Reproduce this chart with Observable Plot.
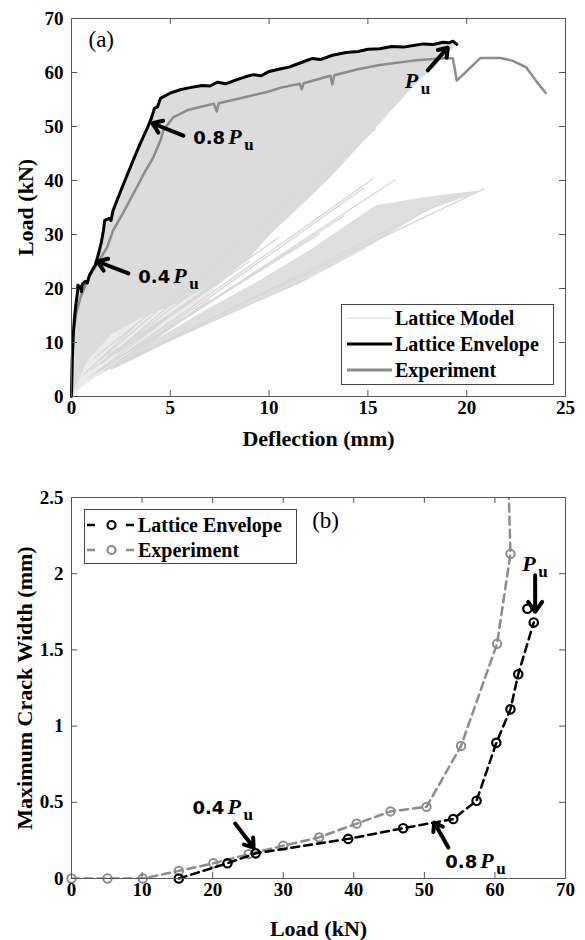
<!DOCTYPE html>
<html><head><meta charset="utf-8">
<script src="https://cdn.jsdelivr.net/npm/d3@7"></script>
<script src="https://cdn.jsdelivr.net/npm/@observablehq/plot@0.6"></script>
<style>
body{margin:0;background:#fff;}
#wrap{position:relative;width:585px;height:940px;overflow:hidden;background:#fff;}
#wrap svg{display:block;}
.legend{position:absolute;background:#fff;border:1px solid #444;box-sizing:border-box;}
</style></head><body><div id="wrap"></div>
<script>
// ---------- Panel (a): Load vs deflection ----------
const latticeEnvelope = [[0,0],[0.03,6],[0.08,11],[0.15,14.5],[0.22,17],[0.3,19.2],[0.32,20.6],[0.45,20.2],[0.5,19.4],[0.55,20.8],[0.7,21.3],[0.8,21],[0.9,22.4],[1.05,23.4],[1.2,24.3],[1.35,26.2],[1.5,28.4],[1.62,30.8],[1.68,32.6],[1.9,33],[2.0,32.6],[2.1,34.4],[2.3,36.3],[2.55,38.6],[2.85,41.3],[3.15,44],[3.45,46.6],[3.8,49.4],[4.05,51.6],[4.2,53.4],[4.35,53.6],[4.5,55.2],[5.0,56.2],[5.5,56.8],[6.0,57.2],[6.6,57.6],[7.0,57.5],[7.4,58.2],[7.8,57.9],[8.3,58.6],[8.8,59.2],[9.2,59.6],[9.6,59.4],[10.0,60.2],[10.6,60.7],[11.0,61.0],[11.6,61.8],[12.2,62.6],[12.6,62.4],[13.2,63.2],[13.9,63.7],[14.5,63.9],[15.0,64.3],[15.6,64.4],[16.2,64.8],[16.8,64.7],[17.3,65.0],[17.8,65.3],[18.3,65.2],[18.8,65.6],[19.1,65.5],[19.3,65.8],[19.5,65.2]];
const experiment = [[0,0],[0.05,6],[0.1,12],[0.25,15.5],[0.45,18.3],[0.8,21.5],[1.3,24.6],[1.8,27.6],[2.1,30.7],[2.6,33.9],[2.9,36],[3.3,38.7],[3.7,41.5],[4.14,44.3],[4.5,47.4],[4.65,49.3],[5.15,51.7],[5.85,53],[6.5,53.6],[7.2,54.2],[7.35,52.8],[7.45,54.3],[8.5,55.2],[9.9,56.4],[10.6,57.2],[11.55,57.9],[11.65,56.9],[11.75,58.0],[13.1,59.4],[13.2,57.8],[13.3,59.5],[14.5,60.6],[15.6,61.4],[17.3,62.2],[19.0,62.7],[19.3,62.6],[19.5,58.5],[20.7,62.7],[21.7,62.7],[22.3,62.2],[23.0,61],[23.5,58.5],[24.0,56.2]];
// lower edge of the dense lattice-model fan (from peak back to origin)
const latticeFanLower = [[19.4,64.8],[17.1,56.7],[15.2,49],[13.1,40.6],[11.5,35],[10.1,30.2],[9,25.7],[7.5,21.5],[5.5,17.5],[3.5,14.5],[2,11.5],[0.8,6.5],[0,0]];
// lighter, streaky part of the fan near the origin
const latticeFanStreaks = [[9,25.7],[7.5,21.5],[5.5,17.5],[3.5,14.5],[2,11.5],[0.8,6.5],[0,0],[0.4,1.5],[1.2,3.5],[2.2,5.5],[4,10],[6.5,17.5]];
// second (lower) cluster of lattice-model branches
const latticeLowerCluster = [[1.7,5],[4,10],[7,16.5],[9.5,21.5],[12,27],[15.4,35.4],[18,37],[20.9,38.3],[18,34.5],[14.9,27.5],[11.6,21],[8,15.3],[5,10.3],[2.2,5.3]];
// individual lattice-model branches [x1, y1, x2, y2]
const latticeBranches = [[1.8,5.5,15.3,40.4],[2.0,5.5,14.8,38.6],[2.4,6.5,16.4,40.2],[1.7,5,20.9,38.5],[2.0,5,19.6,37.4],[3.0,8.5,12.6,30.2],[2.6,7,13.8,33.5],[1.5,6,15.4,49.6],[1.2,6,14.6,48],[1.6,4.8,11.6,21.3],[1.0,5,7.5,21.5],[1.4,6,6,19],[1.8,7.5,9,25],[2.3,8,8.2,23],[1.3,4.5,5.5,15],[2.8,9.5,10.5,29.5],[0.9,3.5,4.5,13.5],[0.6,4,3.2,13],[1.1,7,4,15.5],[2.5,6,7,18]];
const deflTicks = [0,5,10,15,20,25];
const loadTicksA = [0,10,20,30,40,50,60,70];

// ---------- Panel (b): crack width vs load ----------
const crackEnvelope = [[15.2,0],[22.1,0.10],[26.1,0.165],[39.2,0.26],[47.0,0.33],[54.1,0.39],[57.4,0.51],[60.2,0.89],[62.2,1.11],[63.3,1.34],[65.5,1.68]];
const crackEnvelopePeak = [[64.6,1.77]];
const crackExperiment = [[0,0],[5.1,0],[10.1,0],[15.2,0.05],[20.1,0.10],[25.1,0.16],[30,0.215],[35.1,0.27],[40.4,0.36],[45.2,0.44],[50.3,0.47],[55.2,0.87],[60.3,1.54],[62.2,2.13]];
const crackExperimentTail = [[61.8,2.8]];
const loadTicksB = [0,10,20,30,40,50,60,70];
const widthTicks = [0,0.5,1,1.5,2,2.5];

// ---------- annotations ----------
const arrowsA = [{x1:5.66,y1:48.3,x2:4.09,y2:50.6},{x1:2.88,y1:22.8,x2:1.31,y2:25.0},{x1:18.03,y1:60.4,x2:19.04,y2:64.6}];
const ratioLabelsA = [{x:6.16,y:46.85,t:"0.8"},{x:3.38,y:20.93,t:"0.4"}];
const peakLabelA = [{x:16.87,y:57.04}];
const arrowsB = [{x1:23.2,y1:0.36,x2:25.8,y2:0.203},{x1:53.4,y1:0.203,x2:51.4,y2:0.367},{x1:65.7,y1:1.99,x2:65.7,y2:1.75}];
const ratioLabelsB = [{x:17.14,y:0.42,t:"0.4"},{x:52.97,y:0.066,t:"0.8"}];
const peakLabelB = [{x:63.88,y:2.02}];
const panelTagA = [{x:0.86,y:64.8,t:"(a)"}];
const panelTagB = [{x:34.1,y:2.30,t:"(b)"}];

const serif = "'Liberation Serif','Times New Roman',Times,serif";
const pt = a => a.map(([x,y]) => ({x,y}));

// MATLAB-style box with inward ticks (6 px) on all four sides
function frameAndTicks(xt, yt, yfmt, fw, fh) {
  const tk = {stroke:"#555", strokeWidth:1};
  return [
    Plot.ruleX(xt, {x:d=>d, insetTop:fh-6, ...tk}),
    Plot.ruleX(xt, {x:d=>d, insetBottom:fh-6, ...tk}),
    Plot.ruleY(yt, {y:d=>d, insetRight:fw-6, ...tk}),
    Plot.ruleY(yt, {y:d=>d, insetLeft:fw-6, ...tk}),
    Plot.frame({stroke:"#555", strokeWidth:1}),
    Plot.axisX({anchor:"bottom", ticks:xt, tickSize:0, tickPadding:4, label:null, tickFormat:d=>String(d)}),
    Plot.axisY({anchor:"left", ticks:yt, tickSize:0, tickPadding:8, label:null, tickFormat:yfmt})
  ];
}
function ratioLabel(data) {
  return [
    Plot.text(data, {x:"x", y:"y", text:"t", textAnchor:"start", lineAnchor:"bottom", fontFamily:"'DejaVu Sans',sans-serif", fontWeight:"bold", fontSize:18, fill:"#000"}),
    Plot.text(data, {x:"x", y:"y", text:()=>"P", dx:35, textAnchor:"start", lineAnchor:"bottom", fontFamily:serif, fontStyle:"italic", fontWeight:"bold", fontSize:22, fill:"#000"}),
    Plot.text(data, {x:"x", y:"y", text:()=>"u", dx:51, dy:6, textAnchor:"start", lineAnchor:"bottom", fontFamily:serif, fontWeight:"bold", fontSize:17, fill:"#000"})
  ];
}
function peakLabel(data) {
  return [
    Plot.text(data, {x:"x", y:"y", text:()=>"P", textAnchor:"start", lineAnchor:"bottom", fontFamily:serif, fontStyle:"italic", fontWeight:"bold", fontSize:22, fill:"#000"}),
    Plot.text(data, {x:"x", y:"y", text:()=>"u", dx:16, dy:6, textAnchor:"start", lineAnchor:"bottom", fontFamily:serif, fontWeight:"bold", fontSize:17, fill:"#000"})
  ];
}
const arrowStyle = {x1:"x1", y1:"y1", x2:"x2", y2:"y2", stroke:"#000", strokeWidth:4, headLength:12, headAngle:70};
const styleBase = {fontFamily:serif, fontSize:"19px", fontWeight:"bold", color:"#000", background:"#fff", overflow:"visible"};
const axisLabel = {text:d=>d, fontSize:22, fontWeight:"bold", fontFamily:serif, fill:"#000", textAnchor:"middle"};

const chartA = Plot.plot({
  width:585, height:460, marginLeft:71, marginRight:20, marginTop:18, marginBottom:64,
  style:styleBase,
  x:{domain:[0,25]}, y:{domain:[0,70]},
  marks:[
    Plot.line(pt(latticeFanStreaks), {x:"x", y:"y", fill:"#ececec", stroke:"none"}),
    Plot.line(pt(latticeEnvelope.concat(latticeFanLower)), {x:"x", y:"y", fill:"#dcdcdc", stroke:"none"}),
    Plot.line(pt(latticeLowerCluster), {x:"x", y:"y", fill:"#dfdfdf", stroke:"none"}),
    Plot.link(latticeBranches, {x1:d=>d[0], y1:d=>d[1], x2:d=>d[2], y2:d=>d[3], stroke:"#d8d8d8", strokeWidth:1.3}),
    Plot.line(pt(experiment), {x:"x", y:"y", stroke:"#8c8c8c", strokeWidth:2.5, strokeLinejoin:"round"}),
    Plot.line(pt(latticeEnvelope), {x:"x", y:"y", stroke:"#000", strokeWidth:3, strokeLinejoin:"round"}),
    Plot.arrow(arrowsA, arrowStyle),
    ...ratioLabel(ratioLabelsA),
    ...peakLabel(peakLabelA),
    Plot.text(panelTagA, {x:"x", y:"y", text:"t", textAnchor:"start", lineAnchor:"bottom", fontFamily:serif, fontWeight:"normal", fontSize:23, fill:"#000"}),
    ...frameAndTicks(deflTicks, loadTicksA, d=>String(d), 494, 378),
    Plot.text(["Deflection (mm)"], {...axisLabel, frameAnchor:"bottom", dy:49, lineAnchor:"bottom"}),
    Plot.text(["Load (kN)"], {...axisLabel, frameAnchor:"left", rotate:-90, dx:-46})
  ]
});

const chartB = Plot.plot({
  width:585, height:480, marginLeft:71, marginRight:20, marginTop:37, marginBottom:62,
  style:styleBase,
  x:{domain:[0,70]}, y:{domain:[0,2.5]},
  marks:[
    Plot.line(pt(crackExperiment.concat(crackExperimentTail)), {x:"x", y:"y", stroke:"#8c8c8c", strokeWidth:2.5, strokeDasharray:"8,5", clip:true}),
    Plot.dot(pt(crackExperiment), {x:"x", y:"y", r:4.2, stroke:"#8c8c8c", strokeWidth:2, fill:"none"}),
    Plot.line(pt(crackEnvelope), {x:"x", y:"y", stroke:"#000", strokeWidth:2.5, strokeDasharray:"8,5"}),
    Plot.dot(pt(crackEnvelope.concat(crackEnvelopePeak)), {x:"x", y:"y", r:4.2, stroke:"#000", strokeWidth:2.2, fill:"none"}),
    Plot.arrow(arrowsB, arrowStyle),
    ...ratioLabel(ratioLabelsB),
    ...peakLabel(peakLabelB),
    Plot.text(panelTagB, {x:"x", y:"y", text:"t", textAnchor:"start", lineAnchor:"bottom", fontFamily:serif, fontWeight:"normal", fontSize:23, fill:"#000"}),
    ...frameAndTicks(loadTicksB, widthTicks, d=>String(d), 494, 381),
    Plot.text(["Load (kN)"], {...axisLabel, frameAnchor:"bottom", dy:57, lineAnchor:"bottom"}),
    Plot.text(["Maximum Crack Width (mm)"], {...axisLabel, frameAnchor:"left", rotate:-90, dx:-47})
  ]
});

const wrap = document.getElementById("wrap");
wrap.appendChild(chartA);
wrap.appendChild(chartB);

// ---------- legends ----------
const legendA = [
  {name:"Lattice Model", stroke:"#e2e2e2", width:1.5},
  {name:"Lattice Envelope", stroke:"#000", width:3},
  {name:"Experiment", stroke:"#8c8c8c", width:3}
];
const legendB = [
  {name:"Lattice Envelope", stroke:"#000"},
  {name:"Experiment", stroke:"#8c8c8c"}
];
function makeLegend(left, top, w, h) {
  const div = d3.select(wrap).append("div").attr("class","legend")
    .style("left", left+"px").style("top", top+"px").style("width", w+"px").style("height", h+"px");
  return div.append("svg").attr("width", w-2).attr("height", h-2)
    .style("font-family", serif).style("font-weight","bold").style("font-size","20px");
}
const la = makeLegend(341, 304, 213, 81);
legendA.forEach((d,i) => {
  const cy = 13 + i*26;
  la.append("line").attr("x1",5).attr("x2",50).attr("y1",cy).attr("y2",cy).attr("stroke",d.stroke).attr("stroke-width",d.width);
  la.append("text").attr("x",53).attr("y",cy+7).text(d.name);
});
const lb = makeLegend(84, 509, 213, 55);
legendB.forEach((d,i) => {
  const cy = 15 + i*25;
  lb.append("line").attr("x1",2).attr("x2",50).attr("y1",cy).attr("y2",cy).attr("stroke",d.stroke).attr("stroke-width",2.5).attr("stroke-dasharray","8,31");
  lb.append("circle").attr("cx",26.5).attr("cy",cy).attr("r",4).attr("fill","none").attr("stroke",d.stroke).attr("stroke-width",2.2);
  lb.append("text").attr("x",53).attr("y",cy+7).text(d.name);
});
</script></body></html>
